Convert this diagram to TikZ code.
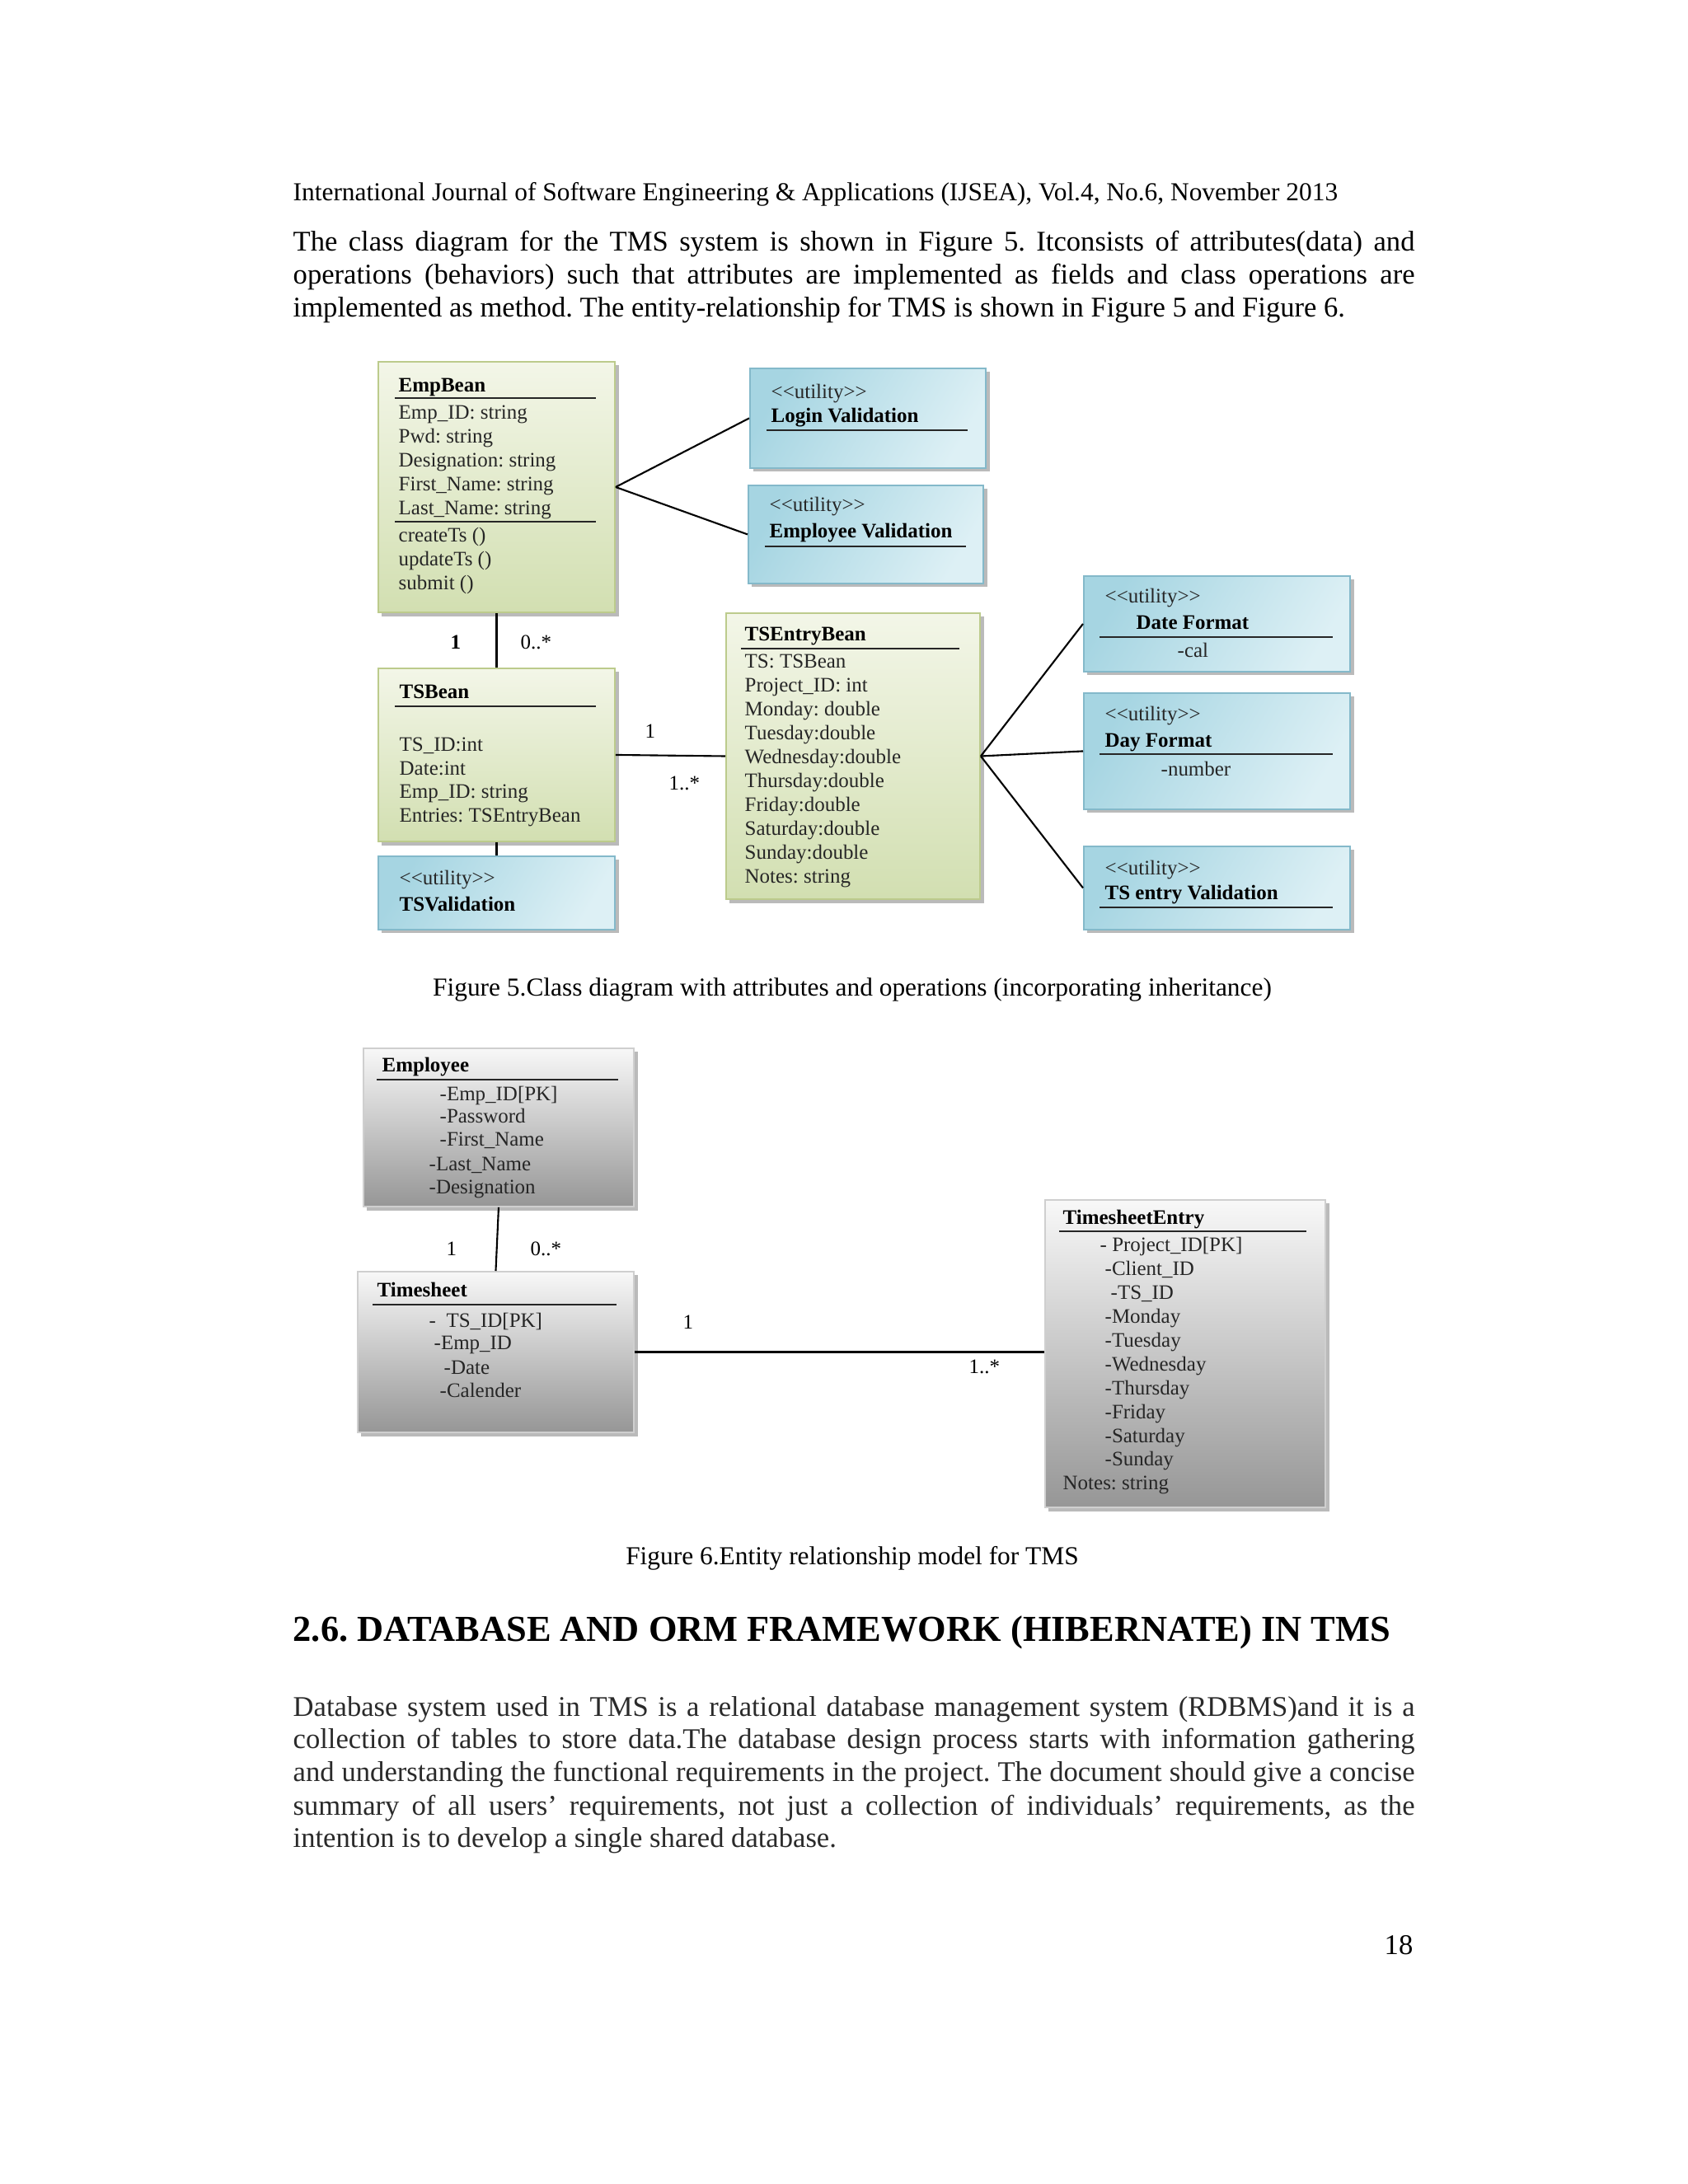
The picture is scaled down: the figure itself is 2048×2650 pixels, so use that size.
\documentclass[tikz,border=0pt]{standalone}
\usepackage{fontspec}
\setmainfont{Liberation Serif}
\usetikzlibrary{shadows}
\definecolor{greentop}{HTML}{F3F6E8}
\definecolor{greenbot}{HTML}{D2DFB1}
\definecolor{greenedge}{HTML}{BCCB8C}
\definecolor{bluedark}{HTML}{A6D5E2}
\definecolor{bluelight}{HTML}{DDF0F5}
\definecolor{blueedge}{HTML}{84B9CA}
\definecolor{graytop}{HTML}{F8F8F8}
\definecolor{graybot}{HTML}{969696}
\definecolor{grayedge}{HTML}{CFCFCF}
\definecolor{textdark}{HTML}{262626}
\definecolor{paragray}{HTML}{2A2A2A}
\newcommand\myBody{\fontsize{9.84pt}{11.3pt}\selectfont}
\newcommand\myHead{\fontsize{8.93pt}{10.5pt}\selectfont}
\newcommand\mySec{\fontsize{12.63pt}{14pt}\selectfont\bfseries}
\newcommand\myDiag{\fontsize{7.1pt}{8.2pt}\selectfont}
\newcommand\utilstereo{<{}<utility>{}>}
\tikzset{
  boxbase/.style={line width=0.5pt, inner sep=0pt, anchor=north west,
    drop shadow={shadow xshift=0.045cm, shadow yshift=-0.045cm, fill=black!45, opacity=0.6}},
  greenbox/.style={boxbase, draw=greenedge, top color=greentop, bottom color=greenbot},
  bluebox/.style={boxbase, draw=blueedge, left color=bluedark, right color=bluelight, shading angle=60},
  graybox/.style={boxbase, draw=grayedge, top color=graytop, bottom color=graybot},
  dtext/.style={font=\myDiag, text=textdark, anchor=base west, inner sep=0pt},
  dtitle/.style={font=\myDiag\bfseries, text=black, anchor=base west, inner sep=0pt},
  uline/.style={line width=0.75pt, draw=black!85},
  conn/.style={line width=0.6pt, draw=black},
  btext/.style={font=\myBody, text=black, anchor=base west, inner sep=0pt},
  ptext/.style={font=\myBody, text=paragray, anchor=base west, inner sep=0pt},
}
\newcommand\jline[1]{\makebox[13.6cm][s]{#1}}
\frenchspacing
\begin{document}
\begin{tikzpicture}[x=0.01cm,y=-0.01cm]
\useasboundingbox (0,0) rectangle (2048,2650);
\fill[white] (0,0) rectangle (2048,2650);

% ---------- page text ----------
\node[font=\myHead, anchor=base west, inner sep=0pt] (hdr) at (355,243)
  {International Journal of Software Engineering \& Applications (IJSEA), Vol.4, No.6, November 2013};
\node[btext] (p1a) at (355,304) {\jline{The class diagram for the TMS system is shown in Figure 5. Itconsists of attributes(data) and}};
\node[btext] (p1b) at (355,344) {\jline{operations (behaviors) such that attributes are implemented as fields and class operations are}};
\node[btext] (p1c) at (355,384) {implemented as method. The entity-relationship for TMS is shown in Figure 5 and Figure 6.};

% ---------- Figure 5 boxes ----------
\node[greenbox, minimum width=2.87cm, minimum height=3.04cm] (empbean) at (458,438) {};
\node[bluebox, minimum width=2.86cm, minimum height=1.21cm] (login) at (909,446) {};
\node[bluebox, minimum width=2.85cm, minimum height=1.19cm] (empval) at (907,588) {};
\node[greenbox, minimum width=2.87cm, minimum height=2.10cm] (tsbean) at (458,810) {};
\node[bluebox, minimum width=2.87cm, minimum height=0.89cm] (tsval) at (458,1038) {};
\node[greenbox, minimum width=3.08cm, minimum height=3.47cm] (tsentry) at (880,743) {};
\node[bluebox, minimum width=3.23cm, minimum height=1.16cm] (datef) at (1314,698) {};
\node[bluebox, minimum width=3.23cm, minimum height=1.41cm] (dayf) at (1314,840) {};
\node[bluebox, minimum width=3.23cm, minimum height=1.01cm] (tsev) at (1314,1026) {};

% connectors fig 5
\draw[conn] (empbean.east) -- (login.west);
\draw[conn] (empbean.east) -- (empval.west);
\draw[conn] (empbean.south) -- (tsbean.north);
\draw[conn] (tsbean.east) -- (tsentry.west);
\draw[conn] (tsbean.south) -- (tsval.north);
\draw[conn] (tsentry.east) -- (datef.west);
\draw[conn] (tsentry.east) -- (dayf.west);
\draw[conn] (tsentry.east) -- (tsev.west);

% EmpBean text
\node[dtitle] (eb0) at (483,475) {EmpBean};
\draw[uline] (479,483) -- (723,483);
\node[dtext] (eb1) at (483,508) {Emp\_ID: string};
\node[dtext] (eb2) at (483,537) {Pwd: string};
\node[dtext] (eb3) at (483,566) {Designation: string};
\node[dtext] (eb4) at (483,595) {First\_Name: string};
\node[dtext] (eb5) at (483,624) {Last\_Name: string};
\draw[uline] (479,633) -- (723,633);
\node[dtext] (eb6) at (483,657) {createTs ()};
\node[dtext] (eb7) at (483,686) {updateTs ()};
\node[dtext] (eb8) at (483,715) {submit ()};

% Login Validation
\node[dtext] (lv0) at (935,483) {\utilstereo};
\node[dtitle] (lv1) at (935,512) {Login Validation};
\draw[uline] (930,522) -- (1174,522);
% Employee Validation
\node[dtext] (ev0) at (933,620) {\utilstereo};
\node[dtitle] (ev1) at (933,652) {Employee Validation};
\draw[uline] (928,663) -- (1172,663);

% TSBean
\node[dtitle] (tb0) at (484,847) {TSBean};
\draw[uline] (479,857) -- (723,857);
\node[dtext] (tb1) at (484,911) {TS\_ID:int};
\node[dtext] (tb2) at (484,940) {Date:int};
\node[dtext] (tb3) at (484,968) {Emp\_ID: string};
\node[dtext] (tb4) at (484,997) {Entries: TSEntryBean};

% TSValidation
\node[dtext] (tv0) at (484,1073) {\utilstereo};
\node[dtitle] (tv1) at (484,1105) {TSValidation};

% TSEntryBean
\node[dtitle] (te0) at (903,777) {TSEntryBean};
\draw[uline] (899,787) -- (1164,787);
\node[dtext] (te1) at (903,810) {TS: TSBean};
\node[dtext] (te2) at (903,839) {Project\_ID: int};
\node[dtext] (te3) at (903,868) {Monday: double};
\node[dtext] (te4) at (903,897) {Tuesday:double};
\node[dtext] (te5) at (903,926) {Wednesday:double};
\node[dtext] (te6) at (903,955) {Thursday:double};
\node[dtext] (te7) at (903,984) {Friday:double};
\node[dtext] (te8) at (903,1013) {Saturday:double};
\node[dtext] (te9) at (903,1042) {Sunday:double};
\node[dtext] (te10) at (903,1071) {Notes: string};

% Date Format
\node[dtext] (df0) at (1340,731) {\utilstereo};
\node[dtitle] (df1) at (1378,763) {Date Format};
\draw[uline] (1334,773) -- (1617,773);
\node[dtext] (df2) at (1428,797) {-cal};
% Day Format
\node[dtext] (dy0) at (1340,874) {\utilstereo};
\node[dtitle] (dy1) at (1340,906) {Day Format};
\draw[uline] (1334,915) -- (1617,915);
\node[dtext] (dy2) at (1408,941) {-number};
% TS entry Validation
\node[dtext] (sv0) at (1340,1061) {\utilstereo};
\node[dtitle] (sv1) at (1340,1091) {TS entry Validation};
\draw[uline] (1334,1101) -- (1617,1101);

% multiplicities fig 5
\node[dtitle] (m1) at (546,787) {1};
\node[dtext, text=black] (m2) at (631,787) {0..*};
\node[dtext, text=black] (m3) at (782,895) {1};
\node[dtext, text=black] (m4) at (811,958) {1..*};

\node[font=\myHead, anchor=base, inner sep=0pt] (cap5) at (1034,1208)
  {Figure 5.Class diagram with attributes and operations (incorporating inheritance)};

% ---------- Figure 6 ----------
\node[graybox, minimum width=3.28cm, minimum height=1.92cm] (employee) at (440,1271) {};
\node[graybox, minimum width=3.35cm, minimum height=1.95cm] (timesheet) at (433,1542) {};
\node[graybox, minimum width=3.40cm, minimum height=3.73cm] (tsentryer) at (1267,1455) {};
\draw[conn] (employee.south) -- (timesheet.north);
\draw[conn] (timesheet.east) -- (timesheet.east -| tsentryer.west);

\node[dtitle] (em0) at (463,1300) {Employee};
\draw[uline] (457,1310) -- (750,1310);
\node[dtext] (em1) at (533,1335) {-Emp\_ID[PK]};
\node[dtext] (em2) at (533,1362) {-Password};
\node[dtext] (em3) at (533,1390) {-First\_Name};
\node[dtext] (em4) at (520,1420) {-Last\_Name};
\node[dtext] (em5) at (520,1448) {-Designation};

\node[dtitle] (ts0) at (457,1573) {Timesheet};
\draw[uline] (452,1583) -- (748,1583);
\node[dtext] (ts1) at (520,1610) {-\hspace{0.5em}TS\_ID[PK]};
\node[dtext] (ts2) at (526,1637) {-Emp\_ID};
\node[dtext] (ts3) at (538,1667) {-Date};
\node[dtext] (ts4) at (533,1695) {-Calender};

\node[dtitle] (se0) at (1289,1485) {TimesheetEntry};
\draw[uline] (1285,1494) -- (1585,1494);
\node[dtext] (se1) at (1334,1518) {- Project\_ID[PK]};
\node[dtext] (se2) at (1340,1547) {-Client\_ID};
\node[dtext] (se3) at (1347,1576) {-TS\_ID};
\node[dtext] (se4) at (1340,1605) {-Monday};
\node[dtext] (se5) at (1340,1634) {-Tuesday};
\node[dtext] (se6) at (1340,1663) {-Wednesday};
\node[dtext] (se7) at (1340,1692) {-Thursday};
\node[dtext] (se8) at (1340,1721) {-Friday};
\node[dtext] (se9) at (1340,1750) {-Saturday};
\node[dtext] (se10) at (1340,1778) {-Sunday};
\node[dtext] (se11) at (1289,1807) {Notes: string};

\node[dtext, text=black] (n1) at (541,1523) {1};
\node[dtext, text=black] (n2) at (643,1523) {0..*};
\node[dtext, text=black] (n3) at (828,1612) {1};
\node[dtext, text=black] (n4) at (1175,1666) {1..*};

\node[font=\myHead, anchor=base, inner sep=0pt] (cap6) at (1034,1898)
  {Figure 6.Entity relationship model for TMS};

% ---------- section ----------
\node[font=\mySec, anchor=base west, inner sep=0pt] (sec) at (355,1991)
  {2.6. DATABASE AND ORM FRAMEWORK (HIBERNATE) IN TMS};
\node[ptext] (p2a) at (355,2082) {\jline{Database system used in TMS is a relational database management system (RDBMS)and it is a}};
\node[ptext] (p2b) at (355,2121) {\jline{collection of tables to store data.The database design process starts with information gathering}};
\node[ptext] (p2c) at (355,2161) {\jline{and understanding the functional requirements in the project. The document should give a concise}};
\node[ptext] (p2d) at (355,2202) {\jline{summary of all users’ requirements, not just a collection of individuals’ requirements, as the}};
\node[ptext] (p2e) at (355,2241) {intention is to develop a single shared database.};

\node[btext, anchor=base east] (pg) at (1715,2371) {18};
\end{tikzpicture}
\end{document}
